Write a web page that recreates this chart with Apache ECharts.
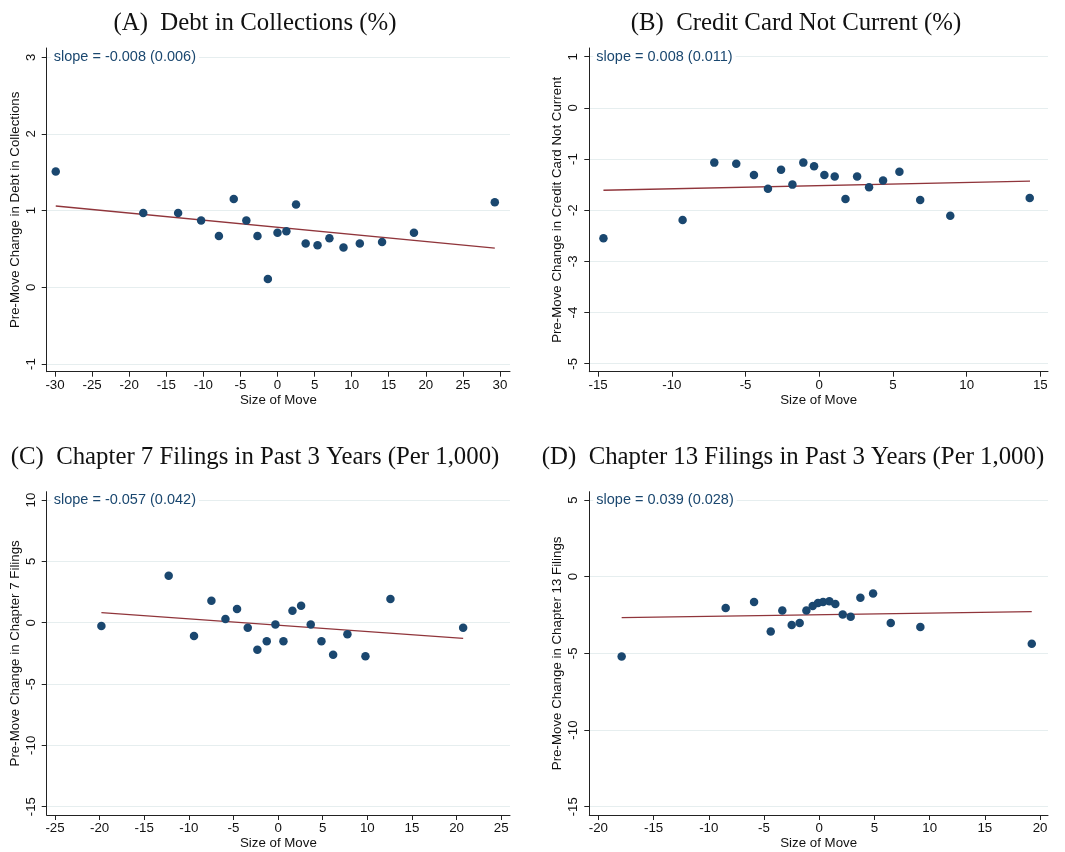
<!DOCTYPE html>
<html>
<head>
<meta charset="utf-8">
<script src="https://cdn.jsdelivr.net/npm/echarts@6/dist/echarts.min.js"></script>
<style>
html,body{margin:0;padding:0;background:#fff;}
#chart{width:1065px;height:852px;}
</style>
</head>
<body>
<div id="chart"></div>
<script>
// ---------- Panel A: Debt in Collections (%) ----------
const titleA = '(A)  Debt in Collections (%)';
const yNameA = 'Pre-Move Change in Debt in Collections';
const slopeA = 'slope = -0.008 (0.006)';
const xA = [-29.9, -18.1, -13.4, -10.3, -7.9, -5.9, -4.2, -2.7, -1.3, 0.0, 1.2, 2.5, 3.8, 5.4, 7.0, 8.9, 11.1, 14.1, 18.4, 29.3];
const yA = [1.51, 0.97, 0.97, 0.87, 0.67, 1.15, 0.87, 0.67, 0.11, 0.71, 0.73, 1.08, 0.57, 0.55, 0.64, 0.52, 0.57, 0.59, 0.71, 1.11];
const fitXA = [-29.9, 29.3];
const fitYA = [1.06, 0.51];
const xTicksA = [-30, -25, -20, -15, -10, -5, 0, 5, 10, 15, 20, 25, 30];
const yTicksA = [-1, 0, 1, 2, 3];

// ---------- Panel B: Credit Card Not Current (%) ----------
const titleB = '(B)  Credit Card Not Current (%)';
const yNameB = 'Pre-Move Change in Credit Card Not Current';
const slopeB = 'slope = 0.008 (0.011)';
const xB = [-14.64, -9.27, -7.12, -5.63, -4.43, -3.48, -2.59, -1.82, -1.08, -0.35, 0.35, 1.05, 1.78, 2.57, 3.38, 4.33, 5.44, 6.85, 8.89, 14.28];
const yB = [-2.55, -2.19, -1.07, -1.09, -1.31, -1.58, -1.21, -1.50, -1.07, -1.14, -1.31, -1.34, -1.78, -1.34, -1.55, -1.42, -1.25, -1.80, -2.11, -1.76];
const fitXB = [-14.64, 14.3];
const fitYB = [-1.61, -1.43];
const xTicksB = [-15, -10, -5, 0, 5, 10, 15];
const yTicksB = [-5, -4, -3, -2, -1, 0, 1];

// ---------- Panel C: Chapter 7 Filings ----------
const titleC = '(C)  Chapter 7 Filings in Past 3 Years (Per 1,000)';
const yNameC = 'Pre-Move Change in Chapter 7 Filings';
const slopeC = 'slope = -0.057 (0.042)';
const xC = [-19.8, -12.26, -9.42, -7.47, -5.90, -4.60, -3.40, -2.32, -1.27, -0.30, 0.60, 1.61, 2.58, 3.66, 4.86, 6.17, 7.77, 9.79, 12.59, 20.74];
const yC = [-0.27, 3.83, -1.09, 1.79, 0.30, 1.11, -0.41, -2.20, -1.52, -0.14, -1.52, 0.98, 1.39, -0.14, -1.52, -2.61, -0.95, -2.74, 1.93, -0.41];
const fitXC = [-19.8, 20.74];
const fitYC = [0.82, -1.28];
const xTicksC = [-25, -20, -15, -10, -5, 0, 5, 10, 15, 20, 25];
const yTicksC = [-15, -10, -5, 0, 5, 10];

// ---------- Panel D: Chapter 13 Filings ----------
const titleD = '(D)  Chapter 13 Filings in Past 3 Years (Per 1,000)';
const yNameD = 'Pre-Move Change in Chapter 13 Filings';
const slopeD = 'slope = 0.039 (0.028)';
const xD = [-17.89, -8.47, -5.90, -4.39, -3.34, -2.49, -1.77, -1.16, -0.59, -0.11, 0.35, 0.92, 1.46, 2.13, 2.85, 3.73, 4.88, 6.48, 9.16, 19.25];
const yD = [-5.20, -2.04, -1.65, -3.57, -2.20, -3.15, -3.02, -2.20, -1.91, -1.72, -1.65, -1.61, -1.78, -2.46, -2.61, -1.37, -1.09, -3.02, -3.28, -4.37];
const fitXD = [-17.89, 19.25];
const fitYD = [-2.67, -2.28];
const xTicksD = [-20, -15, -10, -5, 0, 5, 10, 15, 20];
const yTicksD = [-15, -10, -5, 0, 5];

const xName = 'Size of Move';

// ---------- layout ----------
const NAVY = '#1a476f';
const MAROON = '#90353b';
const GRIDC = '#e6eeef';
const FONT = 'Liberation Sans, Arial, sans-serif';
const SERIF = 'Liberation Serif, Times New Roman, serif';

const panels = [
  {title: titleA, yName: yNameA, slope: slopeA, x: xA, y: yA, fx: fitXA, fy: fitYA, xt: xTicksA, yt: yTicksA,
   rect: {left: 46.7, top: 48, width: 463.3, height: 323.7}, xr: [-31.12, 31.35], yr: [-1.10, 3.12], tc: 255, ty: 22},
  {title: titleB, yName: yNameB, slope: slopeB, x: xB, y: yB, fx: fitXB, fy: fitYB, xt: xTicksB, yt: yTicksB,
   rect: {left: 589.3, top: 48, width: 458.7, height: 323.7}, xr: [-15.6, 15.52], yr: [-5.156, 1.17], tc: 796, ty: 22},
  {title: titleC, yName: yNameC, slope: slopeC, x: xC, y: yC, fx: fitXC, fy: fitYC, xt: xTicksC, yt: yTicksC,
   rect: {left: 46.7, top: 491.7, width: 463.3, height: 323.3}, xr: [-25.93, 25.99], yr: [-15.68, 10.68], tc: 255, ty: 456},
  {title: titleD, yName: yNameD, slope: slopeD, x: xD, y: yD, fx: fitXD, fy: fitYD, xt: xTicksD, yt: yTicksD,
   rect: {left: 589.3, top: 491.7, width: 458.7, height: 323.3}, xr: [-20.82, 20.72], yr: [-15.54, 5.54], tc: 793, ty: 456}
];

const grid = [], xAxis = [], yAxis = [], series = [], graphic = [];
panels.forEach((p, i) => {
  grid.push(Object.assign({containLabel: false}, p.rect));
  xAxis.push({
    type: 'value', gridIndex: i, min: p.xr[0], max: p.xr[1],
    name: xName, nameLocation: 'middle', nameGap: 22,
    nameTextStyle: {fontFamily: FONT, fontSize: 13.3, color: '#111'},
    axisLine: {show: true, onZero: false, lineStyle: {color: '#222', width: 1}},
    axisTick: {show: true, length: 5, customValues: p.xt, lineStyle: {color: '#222'}},
    axisLabel: {customValues: p.xt, fontFamily: FONT, fontSize: 13.3, color: '#111', margin: 7},
    splitLine: {show: false}
  });
  yAxis.push({
    type: 'value', gridIndex: i, min: p.yr[0], max: p.yr[1],
    name: p.yName, nameLocation: 'middle', nameGap: 25, nameRotate: 90,
    nameTextStyle: {fontFamily: FONT, fontSize: 13.3, color: '#111'},
    axisLine: {show: true, onZero: false, lineStyle: {color: '#222', width: 1}},
    axisTick: {show: true, length: 5, customValues: p.yt, lineStyle: {color: '#222'}},
    axisLabel: {customValues: p.yt, rotate: 90, fontFamily: FONT, fontSize: 13.3, color: '#111', margin: 9},
    splitLine: {show: false}
  });
  // horizontal grid lines at tick values
  series.push({
    type: 'line', xAxisIndex: i, yAxisIndex: i, data: [], silent: true, z: 0,
    markLine: {
      z: 0, silent: true, symbol: 'none', label: {show: false},
      lineStyle: {color: GRIDC, width: 1, type: 'solid'},
      emphasis: {disabled: true},
      data: p.yt.map(v => ({yAxis: v}))
    }
  });
  series.push({
    type: 'line', xAxisIndex: i, yAxisIndex: i, z: 2,
    data: p.fx.map((v, k) => [v, p.fy[k]]),
    showSymbol: false, symbol: 'none',
    lineStyle: {color: MAROON, width: 1.3}
  });
  series.push({
    type: 'scatter', xAxisIndex: i, yAxisIndex: i, z: 3,
    data: p.x.map((v, k) => [v, p.y[k]]),
    symbol: 'circle', symbolSize: 8.5,
    itemStyle: {color: NAVY, opacity: 1}
  });
  graphic.push({
    type: 'text', x: p.tc, y: p.ty + 1, z: 10,
    style: {text: p.title, fill: '#111', font: '24.8px ' + SERIF, textAlign: 'center', textVerticalAlign: 'middle'}
  });
  graphic.push({
    type: 'text', x: p.rect.left + 4, y: p.rect.top + 8.7, z: 10,
    style: {text: p.slope, fill: NAVY, font: '14.5px ' + FONT, textAlign: 'left', textVerticalAlign: 'middle',
            backgroundColor: '#fff', padding: [1, 3, 1, 3]}
  });
});

const chart = echarts.init(document.getElementById('chart'), null, {renderer: 'canvas'});
chart.setOption({
  animation: false,
  backgroundColor: '#fff',
  grid, xAxis, yAxis, series, graphic
});
</script>
</body>
</html>
